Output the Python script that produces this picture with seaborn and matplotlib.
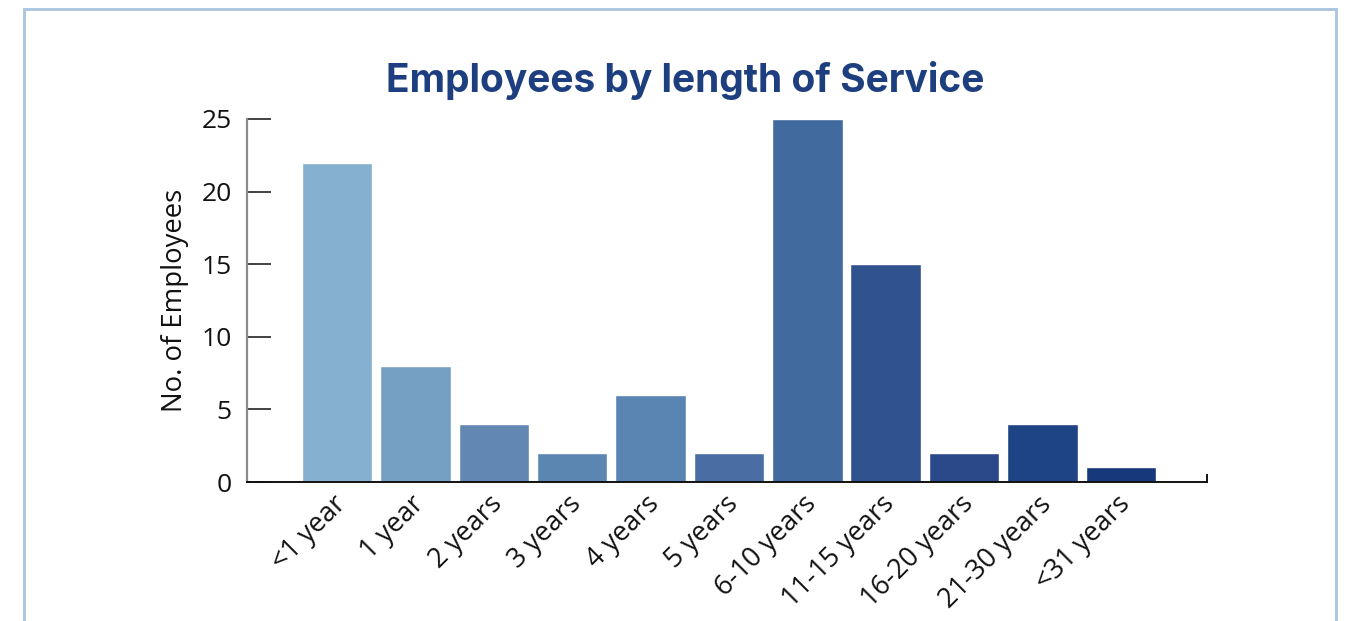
import matplotlib
matplotlib.use("Agg")
import matplotlib.pyplot as plt
import matplotlib.transforms as mtransforms
from matplotlib.patches import Rectangle
import seaborn as sns
import pandas as pd

categories = ["<1 year", "1 year", "2 years", "3 years", "4 years", "5 years",
              "6-10 years", "11-15 years", "16-20 years", "21-30 years", "<31 years"]
employees = [22, 8, 4, 2, 6, 2, 25, 15, 2, 4, 1]
bar_colors = ["#85b0cf", "#76a0c3", "#6287b3", "#5b86b2", "#5a84b1", "#4a6ea4",
              "#416b9e", "#30528f", "#2b4988", "#1e4485", "#17397b"]
y_ticks = [0, 5, 10, 15, 20, 25]

title_text = "Employees by length of Service"
y_label = "No. of Employees"

sns.set_theme(style="white")
plt.rcParams["font.family"] = ["Open Sans", "DejaVu Sans"]

df = pd.DataFrame({"service": categories, "count": employees})

fig = plt.figure(figsize=(13.48, 6.21), dpi=100)
fig.patch.set_facecolor("white")

# light frame around the chart (open at the bottom)
frame = Rectangle((24 / 1348, -0.1), (1336 - 24) / 1348, 1.1 - 9 / 621,
                  transform=fig.transFigure, fill=False,
                  edgecolor="#a9c4de", linewidth=2.0, zorder=0)
fig.add_artist(frame)

ax = fig.add_axes([247 / 1348, 1 - 482 / 621, (1207 - 247) / 1348, (482 - 119) / 621])

sns.barplot(data=df, x="service", y="count", hue="service", palette=bar_colors,
            legend=False, width=0.9, saturation=1, ax=ax)

ax.set_xlim(-1.15, 11.1)
ax.set_ylim(0, 25)
ax.set_yticks(y_ticks)

ax.spines["top"].set_visible(False)
ax.spines["left"].set_color("#8a8a8a")
ax.spines["left"].set_linewidth(1.6)
ax.spines["bottom"].set_color("#111111")
ax.spines["bottom"].set_linewidth(1.4)
ax.spines["right"].set_color("#111111")
ax.spines["right"].set_linewidth(1.4)
ax.spines["right"].set_bounds(0, 0.5)

ax.tick_params(axis="y", direction="in", length=17, width=1.2, color="#222222",
               labelsize=19, labelcolor="#111111", pad=11, left=True)
ax.tick_params(axis="x", length=0, labelsize=19.5, labelcolor="#111111", pad=6)

shift = mtransforms.ScaledTranslation(-5 / 100, 0, fig.dpi_scale_trans)
for lbl in ax.get_xticklabels():
    lbl.set_rotation(45)
    lbl.set_ha("right")
    lbl.set_va("top")
    lbl.set_rotation_mode("anchor")
    lbl.set_transform(lbl.get_transform() + shift)

ax.set_xlabel("")
ax.set_ylabel(y_label, fontsize=19.8, color="#111111", labelpad=9)

fig.text(685 / 1348, 1 - 80 / 621, title_text, ha="center", va="center",
         fontsize=28, fontweight="bold", color="#1d3f7f",
         family=["Inter", "DejaVu Sans"])

fig.savefig("out.png", dpi=100, facecolor="white")
